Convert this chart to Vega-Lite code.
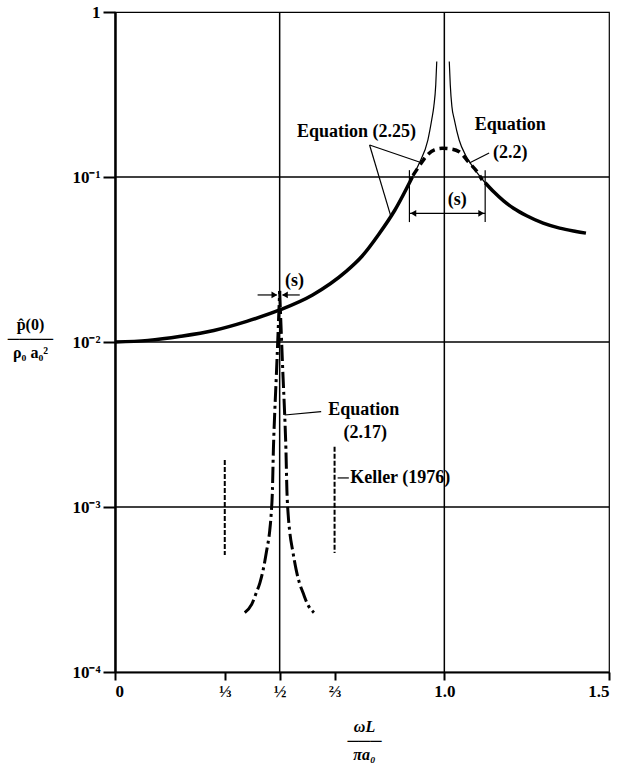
{
  "$schema": "https://vega.github.io/schema/vega-lite/v6.json",
  "width": 494,
  "height": 660,
  "autosize": "none",
  "padding": {"left": 115, "top": 12, "right": 11, "bottom": 92},
  "background": "white",
  "config": {
    "view": {"stroke": "black", "strokeWidth": 1.2},
    "font": "Liberation Serif",
    "axis": {"labelFont": "Liberation Serif", "titleFont": "Liberation Serif", "labelColor": "black", "titleColor": "black", "domainColor": "black", "tickColor": "black", "grid": false}
  },
  "data": {"values": [
    {"kind": "grid", "x": 0, "x2": 1.5, "y": 0.1, "y2": 0.1},
    {"kind": "grid", "x": 0, "x2": 1.5, "y": 0.01, "y2": 0.01},
    {"kind": "grid", "x": 0, "x2": 1.5, "y": 0.001, "y2": 0.001},
    {"kind": "grid", "x": 0.5, "x2": 0.5, "y": 0.0001, "y2": 1},
    {"kind": "grid", "x": 1.0, "x2": 1.0, "y": 0.0001, "y2": 1},

    {"kind": "curve", "eq": "2.25", "part": "main", "branch": "L", "x": 0.0, "y": 0.01},
    {"kind": "curve", "eq": "2.25", "part": "main", "branch": "L", "x": 0.1, "y": 0.01023},
    {"kind": "curve", "eq": "2.25", "part": "main", "branch": "L", "x": 0.2, "y": 0.01084},
    {"kind": "curve", "eq": "2.25", "part": "main", "branch": "L", "x": 0.3, "y": 0.01175},
    {"kind": "curve", "eq": "2.25", "part": "main", "branch": "L", "x": 0.4, "y": 0.01334},
    {"kind": "curve", "eq": "2.25", "part": "main", "branch": "L", "x": 0.5, "y": 0.01563},
    {"kind": "curve", "eq": "2.25", "part": "main", "branch": "L", "x": 0.6, "y": 0.01928},
    {"kind": "curve", "eq": "2.25", "part": "main", "branch": "L", "x": 0.7, "y": 0.0266},
    {"kind": "curve", "eq": "2.25", "part": "main", "branch": "L", "x": 0.75, "y": 0.0331},
    {"kind": "curve", "eq": "2.25", "part": "main", "branch": "L", "x": 0.8, "y": 0.0447},
    {"kind": "curve", "eq": "2.25", "part": "main", "branch": "L", "x": 0.85, "y": 0.0631},
    {"kind": "curve", "eq": "2.25", "part": "main", "branch": "L", "x": 0.903, "y": 0.1},
    {"kind": "curve", "eq": "2.25", "part": "main", "branch": "R", "x": 1.124, "y": 0.0923},
    {"kind": "curve", "eq": "2.25", "part": "main", "branch": "R", "x": 1.15, "y": 0.0813},
    {"kind": "curve", "eq": "2.25", "part": "main", "branch": "R", "x": 1.18, "y": 0.0716},
    {"kind": "curve", "eq": "2.25", "part": "main", "branch": "R", "x": 1.21, "y": 0.0646},
    {"kind": "curve", "eq": "2.25", "part": "main", "branch": "R", "x": 1.25, "y": 0.0582},
    {"kind": "curve", "eq": "2.25", "part": "main", "branch": "R", "x": 1.3, "y": 0.0525},
    {"kind": "curve", "eq": "2.25", "part": "main", "branch": "R", "x": 1.35, "y": 0.049},
    {"kind": "curve", "eq": "2.25", "part": "main", "branch": "R", "x": 1.4, "y": 0.0468},
    {"kind": "curve", "eq": "2.25", "part": "main", "branch": "R", "x": 1.43, "y": 0.0457},

    {"kind": "curve", "eq": "2.25", "part": "pole", "branch": "L", "x": 0.903, "y": 0.1},
    {"kind": "curve", "eq": "2.25", "part": "pole", "branch": "L", "x": 0.924, "y": 0.1216},
    {"kind": "curve", "eq": "2.25", "part": "pole", "branch": "L", "x": 0.95, "y": 0.1675},
    {"kind": "curve", "eq": "2.25", "part": "pole", "branch": "L", "x": 0.962, "y": 0.224},
    {"kind": "curve", "eq": "2.25", "part": "pole", "branch": "L", "x": 0.968, "y": 0.267},
    {"kind": "curve", "eq": "2.25", "part": "pole", "branch": "L", "x": 0.974, "y": 0.363},
    {"kind": "curve", "eq": "2.25", "part": "pole", "branch": "L", "x": 0.977, "y": 0.501},
    {"kind": "curve", "eq": "2.25", "part": "pole", "branch": "R", "x": 1.015, "y": 0.501},
    {"kind": "curve", "eq": "2.25", "part": "pole", "branch": "R", "x": 1.018, "y": 0.363},
    {"kind": "curve", "eq": "2.25", "part": "pole", "branch": "R", "x": 1.023, "y": 0.267},
    {"kind": "curve", "eq": "2.25", "part": "pole", "branch": "R", "x": 1.03, "y": 0.224},
    {"kind": "curve", "eq": "2.25", "part": "pole", "branch": "R", "x": 1.045, "y": 0.1675},
    {"kind": "curve", "eq": "2.25", "part": "pole", "branch": "R", "x": 1.065, "y": 0.135},
    {"kind": "curve", "eq": "2.25", "part": "pole", "branch": "R", "x": 1.086, "y": 0.1156},
    {"kind": "curve", "eq": "2.25", "part": "pole", "branch": "R", "x": 1.124, "y": 0.0923},

    {"kind": "curve", "eq": "2.2", "part": "main", "branch": "C", "x": 0.905, "y": 0.1023},
    {"kind": "curve", "eq": "2.2", "part": "main", "branch": "C", "x": 0.925, "y": 0.1175},
    {"kind": "curve", "eq": "2.2", "part": "main", "branch": "C", "x": 0.948, "y": 0.1358},
    {"kind": "curve", "eq": "2.2", "part": "main", "branch": "C", "x": 0.97, "y": 0.1462},
    {"kind": "curve", "eq": "2.2", "part": "main", "branch": "C", "x": 0.994, "y": 0.1493},
    {"kind": "curve", "eq": "2.2", "part": "main", "branch": "C", "x": 1.02, "y": 0.1479},
    {"kind": "curve", "eq": "2.2", "part": "main", "branch": "C", "x": 1.045, "y": 0.1422},
    {"kind": "curve", "eq": "2.2", "part": "main", "branch": "C", "x": 1.076, "y": 0.1216},
    {"kind": "curve", "eq": "2.2", "part": "main", "branch": "C", "x": 1.1, "y": 0.1072},
    {"kind": "curve", "eq": "2.2", "part": "main", "branch": "C", "x": 1.115, "y": 0.0959},

    {"kind": "curve", "eq": "2.17", "part": "main", "branch": "L", "x": 0.394, "y": 0.000229},
    {"kind": "curve", "eq": "2.17", "part": "main", "branch": "L", "x": 0.415, "y": 0.000257},
    {"kind": "curve", "eq": "2.17", "part": "main", "branch": "L", "x": 0.429, "y": 0.000302},
    {"kind": "curve", "eq": "2.17", "part": "main", "branch": "L", "x": 0.44, "y": 0.000347},
    {"kind": "curve", "eq": "2.17", "part": "main", "branch": "L", "x": 0.45, "y": 0.000417},
    {"kind": "curve", "eq": "2.17", "part": "main", "branch": "L", "x": 0.46, "y": 0.000537},
    {"kind": "curve", "eq": "2.17", "part": "main", "branch": "L", "x": 0.47, "y": 0.000724},
    {"kind": "curve", "eq": "2.17", "part": "main", "branch": "L", "x": 0.474, "y": 0.000891},
    {"kind": "curve", "eq": "2.17", "part": "main", "branch": "L", "x": 0.478, "y": 0.00126},
    {"kind": "curve", "eq": "2.17", "part": "main", "branch": "L", "x": 0.481, "y": 0.00224},
    {"kind": "curve", "eq": "2.17", "part": "main", "branch": "L", "x": 0.485, "y": 0.00372},
    {"kind": "curve", "eq": "2.17", "part": "main", "branch": "L", "x": 0.49, "y": 0.00631},
    {"kind": "curve", "eq": "2.17", "part": "main", "branch": "L", "x": 0.495, "y": 0.01122},
    {"kind": "curve", "eq": "2.17", "part": "main", "branch": "L", "x": 0.5, "y": 0.0204},
    {"kind": "curve", "eq": "2.17", "part": "main", "branch": "R", "x": 0.5, "y": 0.0204},
    {"kind": "curve", "eq": "2.17", "part": "main", "branch": "R", "x": 0.505, "y": 0.01122},
    {"kind": "curve", "eq": "2.17", "part": "main", "branch": "R", "x": 0.51, "y": 0.00631},
    {"kind": "curve", "eq": "2.17", "part": "main", "branch": "R", "x": 0.515, "y": 0.00372},
    {"kind": "curve", "eq": "2.17", "part": "main", "branch": "R", "x": 0.519, "y": 0.00224},
    {"kind": "curve", "eq": "2.17", "part": "main", "branch": "R", "x": 0.522, "y": 0.00126},
    {"kind": "curve", "eq": "2.17", "part": "main", "branch": "R", "x": 0.526, "y": 0.000891},
    {"kind": "curve", "eq": "2.17", "part": "main", "branch": "R", "x": 0.53, "y": 0.000724},
    {"kind": "curve", "eq": "2.17", "part": "main", "branch": "R", "x": 0.54, "y": 0.000537},
    {"kind": "curve", "eq": "2.17", "part": "main", "branch": "R", "x": 0.55, "y": 0.000417},
    {"kind": "curve", "eq": "2.17", "part": "main", "branch": "R", "x": 0.56, "y": 0.000347},
    {"kind": "curve", "eq": "2.17", "part": "main", "branch": "R", "x": 0.571, "y": 0.000302},
    {"kind": "curve", "eq": "2.17", "part": "main", "branch": "R", "x": 0.585, "y": 0.000257},
    {"kind": "curve", "eq": "2.17", "part": "main", "branch": "R", "x": 0.604, "y": 0.000229},

    {"kind": "keller", "x": 0.3333, "x2": 0.3333, "y": 0.00193, "y2": 0.000512},
    {"kind": "keller", "x": 0.6667, "x2": 0.6667, "y": 0.00232, "y2": 0.000526},

    {"kind": "leader", "x": 0.773, "x2": 0.924, "y": 0.1563, "y2": 0.1233},
    {"kind": "leader", "x": 0.773, "x2": 0.839, "y": 0.1563, "y2": 0.0565},
    {"kind": "leader", "x": 1.136, "x2": 1.076, "y": 0.1397, "y2": 0.1216},
    {"kind": "leader", "x": 0.626, "x2": 0.515, "y": 0.00378, "y2": 0.00361},
    {"kind": "leader", "x": 0.676, "x2": 0.71, "y": 0.0015, "y2": 0.0015},
    {"kind": "leader", "x": 0.894, "x2": 1.124, "y": 0.0602, "y2": 0.0602},
    {"kind": "leader", "x": 0.894, "x2": 0.894, "y": 0.0533, "y2": 0.11},
    {"kind": "leader", "x": 1.124, "x2": 1.124, "y": 0.0533, "y2": 0.11},
    {"kind": "leader", "x": 0.433, "x2": 0.491, "y": 0.01928, "y2": 0.01928},
    {"kind": "leader", "x": 0.509, "x2": 0.561, "y": 0.01928, "y2": 0.01928},

    {"kind": "arrow", "dir": "left", "x": 0.906, "y": 0.0602},
    {"kind": "arrow", "dir": "right", "x": 1.112, "y": 0.0602},
    {"kind": "arrow", "dir": "right", "x": 0.484, "y": 0.01928},
    {"kind": "arrow", "dir": "left", "x": 0.516, "y": 0.01928},

    {"kind": "label", "text": "Equation (2.25)", "x": 0.733, "y": 0.188},
    {"kind": "label", "text": "Equation", "x": 1.2, "y": 0.2065},
    {"kind": "label", "text": "(2.2)", "x": 1.2, "y": 0.1397},
    {"kind": "label", "text": "(s)", "x": 1.039, "y": 0.0726},
    {"kind": "label", "text": "(s)", "x": 0.545, "y": 0.0234},
    {"kind": "label", "text": "Equation", "x": 0.755, "y": 0.00387},
    {"kind": "label", "text": "(2.17)", "x": 0.76, "y": 0.00281},
    {"kind": "label", "text": "Keller (1976)", "x": 0.866, "y": 0.0015}
  ]},
  "encoding": {
    "x": {
      "field": "x", "type": "quantitative",
      "scale": {"domain": [0, 1.5], "nice": false, "zero": false},
      "axis": {
        "values": [0, 0.33333, 0.5, 0.66667, 1.0, 1.5],
        "labelExpr": "datum.value < 0.1 ? '0' : datum.value < 0.4 ? '⅓' : datum.value < 0.6 ? '½' : datum.value < 0.8 ? '⅔' : datum.value < 1.2 ? '1.0' : '1.5'",
        "labelFontSize": 17, "labelFontWeight": "bold", "labelPadding": 3,
        "tickSize": 8, "tickWidth": 2, "domainWidth": 2,
        "title": ["ωL", "───", "πa₀"],
        "titleFontSize": 16, "titleFontWeight": "bold", "titleFontStyle": "italic",
        "titleLineHeight": 14, "titleY": 54, "titleBaseline": "middle", "titleX": 249
      }
    },
    "y": {
      "field": "y", "type": "quantitative",
      "scale": {"type": "log", "domain": [0.0001, 1], "nice": false, "zero": false},
      "axis": {
        "values": [1, 0.1, 0.01, 0.001, 0.0001],
        "labelExpr": "datum.value > 0.5 ? '1' : datum.value > 0.05 ? '10⁻¹' : datum.value > 0.005 ? '10⁻²' : datum.value > 0.0005 ? '10⁻³' : '10⁻⁴'",
        "labelFontSize": 17, "labelFontWeight": "bold", "labelPadding": 3,
        "tickSize": 12, "tickWidth": 2, "domainWidth": 2.5,
        "title": ["p̂(0)", "────", "ρ₀ a₀²"],
        "titleAngle": 0, "titleFontSize": 16, "titleFontWeight": "bold",
        "titleLineHeight": 14, "titleX": -85, "titleY": 312, "titleAlign": "center", "titleBaseline": "middle"
      }
    }
  },
  "layer": [
    {
      "transform": [{"filter": "datum.kind == 'grid'"}],
      "mark": {"type": "rule", "stroke": "black", "strokeWidth": 1.5},
      "encoding": {"x2": {"field": "x2"}, "y2": {"field": "y2"}}
    },
    {
      "transform": [{"filter": "datum.kind == 'keller'"}],
      "mark": {"type": "rule", "stroke": "black", "strokeWidth": 2, "strokeDash": [5, 2]},
      "encoding": {"y2": {"field": "y2"}}
    },
    {
      "transform": [{"filter": "datum.kind == 'curve' && datum.eq == '2.25' && datum.part == 'main'"}],
      "mark": {"type": "line", "stroke": "black", "strokeWidth": 3.5, "interpolate": "monotone"},
      "encoding": {"detail": {"field": "branch"}}
    },
    {
      "transform": [{"filter": "datum.kind == 'curve' && datum.eq == '2.25' && datum.part == 'pole'"}],
      "mark": {"type": "line", "stroke": "black", "strokeWidth": 1.2, "interpolate": "monotone"},
      "encoding": {"detail": {"field": "branch"}}
    },
    {
      "transform": [{"filter": "datum.kind == 'curve' && datum.eq == '2.2'"}],
      "mark": {"type": "line", "stroke": "black", "strokeWidth": 3.5, "strokeDash": [8, 5], "interpolate": "monotone"},
      "encoding": {"detail": {"field": "branch"}}
    },
    {
      "transform": [{"filter": "datum.kind == 'curve' && datum.eq == '2.17'"}],
      "mark": {"type": "line", "stroke": "black", "strokeWidth": 3, "strokeDash": [16, 4, 3, 4], "interpolate": "monotone"},
      "encoding": {"detail": {"field": "branch"}}
    },
    {
      "transform": [{"filter": "datum.kind == 'leader'"}],
      "mark": {"type": "rule", "stroke": "black", "strokeWidth": 1.2},
      "encoding": {"x2": {"field": "x2"}, "y2": {"field": "y2"}}
    },
    {
      "transform": [{"filter": "datum.kind == 'arrow'"}],
      "mark": {"type": "point", "filled": true, "color": "black", "size": 45, "opacity": 1},
      "encoding": {
        "shape": {"field": "dir", "type": "nominal", "scale": {"domain": ["left", "right"], "range": ["triangle-left", "triangle-right"]}, "legend": null}
      }
    },
    {
      "transform": [{"filter": "datum.kind == 'label'"}],
      "mark": {"type": "text", "font": "Liberation Serif", "fontSize": 18, "fontWeight": "bold", "color": "black", "align": "center", "baseline": "middle"},
      "encoding": {"text": {"field": "text"}}
    }
  ]
}
